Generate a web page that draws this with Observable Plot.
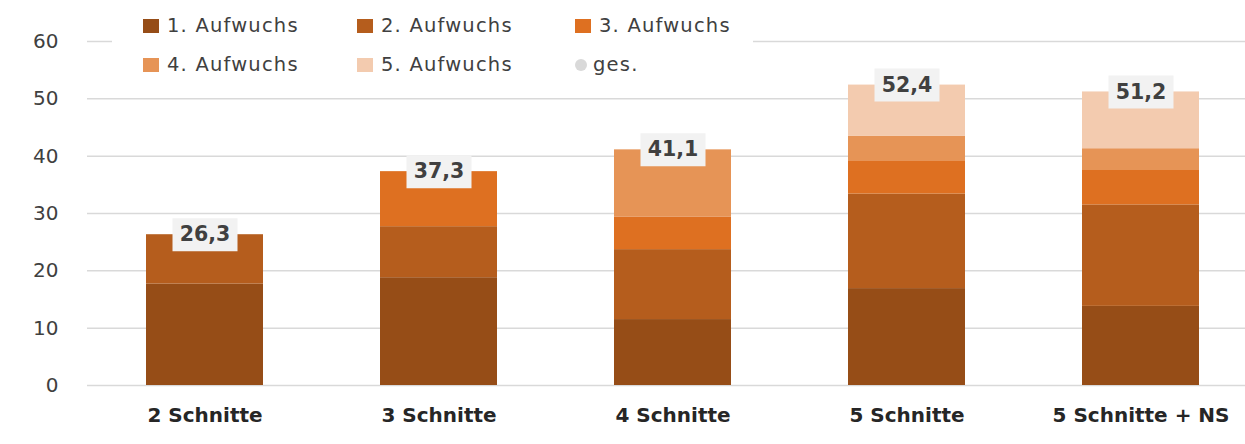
<!DOCTYPE html>
<html>
<head>
<meta charset="utf-8">
<script src="https://cdn.jsdelivr.net/npm/d3@7"></script>
<script src="https://cdn.jsdelivr.net/npm/@observablehq/plot@0.6"></script>
<style>
  html, body { margin: 0; padding: 0; background: #fff; }
  #wrap { position: relative; width: 1245px; height: 444px; overflow: hidden; font-family: "DejaVu Sans", sans-serif; }
  #legend { position: absolute; left: 112px; top: 6px; width: 641px; height: 78px; background: #fff; }
  .item { position: absolute; display: flex; align-items: center; font-size: 19.5px; letter-spacing: 1.2px; color: #404040; white-space: nowrap; }
  .sw { width: 16px; height: 14px; margin-right: 8px; }
  .dot { width: 12px; height: 12px; border-radius: 50%; margin-right: 6px; margin-left: 2px; }
</style>
</head>
<body>
<div id="wrap"><div id="legend"></div></div>
<script>
// Categories and series
const categories = ["2 Schnitte", "3 Schnitte", "4 Schnitte", "5 Schnitte", "5 Schnitte + NS"];
const series = ["1. Aufwuchs", "2. Aufwuchs", "3. Aufwuchs", "4. Aufwuchs", "5. Aufwuchs"];
const colors = ["#964D17", "#B55D1D", "#DE7021", "#E69456", "#F3CBAF"];
// values per series, one per category (null = not present)
const aufwuchs1 = [17.7, 18.8, 11.5, 16.9, 13.8];
const aufwuchs2 = [8.6, 8.9, 12.2, 16.5, 17.7];
const aufwuchs3 = [null, 9.6, 5.7, 5.8, 6.0];
const aufwuchs4 = [null, null, 11.7, 4.3, 3.8];
const aufwuchs5 = [null, null, null, 8.9, 9.9];
const totals = [26.3, 37.3, 41.1, 52.4, 51.2];
const totalLabels = ["26,3", "37,3", "41,1", "52,4", "51,2"];
const yTicks = [0, 10, 20, 30, 40, 50, 60];

const seriesValues = [aufwuchs1, aufwuchs2, aufwuchs3, aufwuchs4, aufwuchs5];
const rows = [];
seriesValues.forEach((vals, si) => {
  vals.forEach((v, ci) => {
    if (v != null) rows.push({cat: categories[ci], series: series[si], value: v});
  });
});
const totalRows = categories.map((c, i) => ({cat: c, total: totals[i], label: totalLabels[i]}));

const boxSymbol = {
  draw(context, size) {
    context.rect(-32.5, -16.5, 65, 33);
  }
};

const chart = Plot.plot({
  width: 1245,
  height: 444,
  marginTop: 41,
  marginBottom: 59,
  marginLeft: 87,
  marginRight: 0,
  style: {fontFamily: "DejaVu Sans, sans-serif", background: "transparent"},
  x: {domain: categories, range: [87, 1257], paddingInner: 0.5, paddingOuter: 0.25, label: null},
  y: {domain: [0, 60], label: null},
  color: {domain: series, range: colors},
  marks: [
    Plot.ruleY(yTicks, {stroke: "#D9D9D9", strokeWidth: 1.5}),
    Plot.barY(rows, {x: "cat", y: "value", fill: "series", order: null}),
    Plot.dot(totalRows, {x: "cat", y: "total", symbol: boxSymbol, r: 10, fill: "#F2F2F2", stroke: "none"}),
    Plot.text(totalRows, {x: "cat", y: "total", text: "label", fontSize: 20.5, fontWeight: "bold", fill: "#404040", lineAnchor: "middle"}),
    Plot.axisY(yTicks, {tickSize: 0, tickPadding: 29, fontSize: 20, fill: "#404040", label: null}),
    Plot.axisX({tickSize: 0, tickPadding: 22, fontSize: 20, fontWeight: "bold", fill: "#262626", label: null})
  ]
});
const wrap = document.getElementById("wrap");
wrap.insertBefore(chart, wrap.firstChild);

// Legend
const legend = document.getElementById("legend");
const legendItems = [
  {label: series[0], color: colors[0], left: 31, top: 8},
  {label: series[1], color: colors[1], left: 245, top: 8},
  {label: series[2], color: colors[2], left: 463, top: 8},
  {label: series[3], color: colors[3], left: 31, top: 47},
  {label: series[4], color: colors[4], left: 245, top: 47},
  {label: "ges.", color: "#D9D9D9", left: 461, top: 47, dot: true}
];
legendItems.forEach(it => {
  const d = document.createElement("div");
  d.className = "item";
  d.style.left = it.left + "px";
  d.style.top = it.top + "px";
  const s = document.createElement("span");
  s.className = it.dot ? "dot" : "sw";
  s.style.background = it.color;
  d.appendChild(s);
  const t = document.createElement("span");
  t.textContent = it.label;
  d.appendChild(t);
  legend.appendChild(d);
});
</script>
</body>
</html>
